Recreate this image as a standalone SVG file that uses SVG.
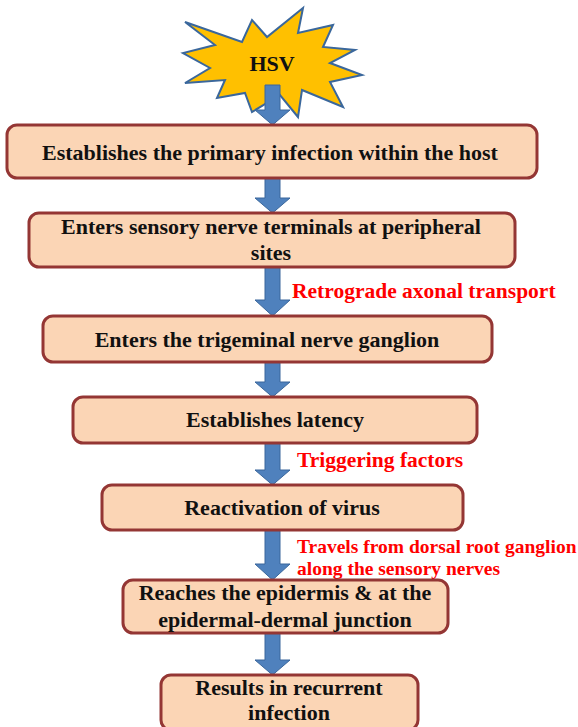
<svg xmlns="http://www.w3.org/2000/svg" width="578" height="727" viewBox="0 0 578 727">
<style>
.box{fill:#FBD5B5;stroke:#943634;stroke-width:3}
.arrow{fill:#4F81BD;stroke:#3A679C;stroke-width:1}
.t{font-family:"Liberation Serif","Times New Roman",serif;font-weight:bold;font-size:22px;fill:#111;text-anchor:middle}
.r{font-family:"Liberation Serif","Times New Roman",serif;font-weight:bold;font-size:21.5px;fill:#FF0000}
.r2{font-family:"Liberation Serif","Times New Roman",serif;font-weight:bold;font-size:19.5px;fill:#FF0000}
</style>
<rect width="578" height="727" fill="#FFFFFF"/>
<g id="hsv">
<polygon points="185,22 242,42 252,20 267,37 303,8 298,33 333,25 323,47 355,50 330,63 362,75 330,82 343,107 302,90 298,117 280,95 252,112 245,93 217,98 225,80 185,83 210,68 183,53 215,45" fill="#FFC000" stroke="#3A679C" stroke-width="2" stroke-linejoin="miter"/>
<text x="272" y="71" font-family="Liberation Serif, Times New Roman, serif" font-weight="bold" font-size="22" fill="#111" text-anchor="middle">HSV</text>
</g>
<g id="connectors">
<polygon class="arrow" points="265,85 280,85 280,110 290,110 272.5,125 255,110 265,110"/>
<polygon class="arrow" points="265,178 280,178 280,198 290,198 272.5,213 255,198 265,198"/>
<polygon class="arrow" points="265,267 280,267 280,300 290,300 272.5,316 255,300 265,300"/>
<polygon class="arrow" points="265,362 280,362 280,382 290,382 272.5,397 255,382 265,382"/>
<polygon class="arrow" points="265,443 280,443 280,470 290,470 272.5,485 255,470 265,470"/>
<polygon class="arrow" points="265,530 280,530 280,564 290,564 272.5,580 255,564 265,564"/>
<polygon class="arrow" points="265,633 280,633 280,660 290,660 272.5,675 255,660 265,660"/>
<text class="r" x="292" y="298">Retrograde axonal transport</text>
<text class="r" x="297" y="467">Triggering factors</text>
<text class="r2" x="297" y="553">Travels from dorsal root ganglion</text>
<text class="r2" x="297" y="575">along the sensory nerves</text>
</g>
<g id="n1">
<rect class="box" x="7" y="125" width="530" height="53" rx="10"/>
<text class="t" x="270" y="160">Establishes the primary infection within the host</text>
</g>
<g id="n2">
<rect class="box" x="29" y="213" width="486" height="54" rx="10"/>
<text class="t" x="271" y="234">Enters sensory nerve terminals at peripheral</text>
<text class="t" x="271" y="260">sites</text>
</g>
<g id="n3">
<rect class="box" x="43" y="316" width="449" height="46" rx="10"/>
<text class="t" x="267" y="347">Enters the trigeminal nerve ganglion</text>
</g>
<g id="n4">
<rect class="box" x="73" y="397" width="404" height="46" rx="10"/>
<text class="t" x="275" y="427">Establishes latency</text>
</g>
<g id="n5">
<rect class="box" x="102" y="485" width="361" height="45" rx="10"/>
<text class="t" x="282" y="515">Reactivation of virus</text>
</g>
<g id="n6">
<rect class="box" x="123" y="580" width="325" height="53" rx="10"/>
<text class="t" x="285" y="600">Reaches the epidermis &amp; at the</text>
<text class="t" x="285" y="627">epidermal-dermal junction</text>
</g>
<g id="n7">
<rect class="box" x="161" y="675" width="257" height="55" rx="10"/>
<text class="t" x="289" y="695">Results in recurrent</text>
<text class="t" x="289" y="720">infection</text>
</g>
</svg>
